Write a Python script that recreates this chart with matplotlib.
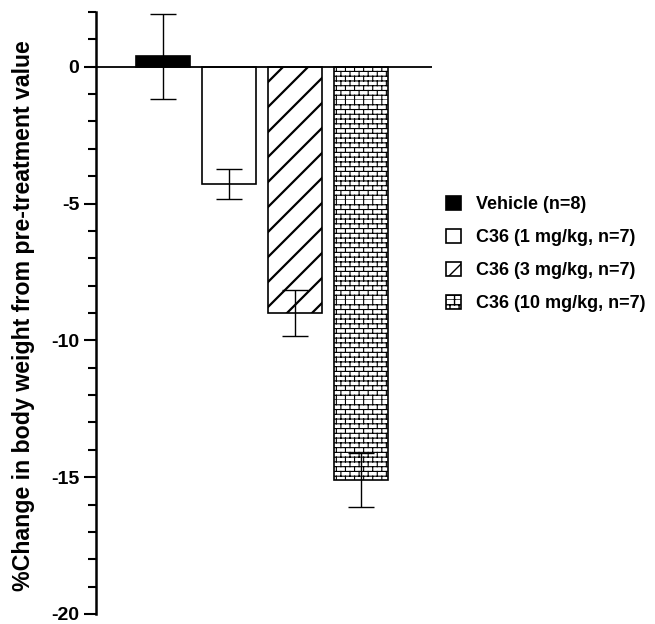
import warnings
import numpy as np
import matplotlib
matplotlib.use("Agg")
import matplotlib.pyplot as plt
import matplotlib.hatch as mhatch
from matplotlib.path import Path
from matplotlib.ticker import MultipleLocator

warnings.filterwarnings("ignore")

# data
labels = ["Vehicle (n=8)", "C36 (1 mg/kg, n=7)", "C36 (3 mg/kg, n=7)", "C36 (10 mg/kg, n=7)"]
means = [0.38, -4.3, -9.0, -15.1]
errors = [1.55, 0.55, 0.85, 1.0]


# custom hatches: 'b' = brick, 'd' = wider diagonal
class BrickHatch(mhatch.HatchPatternBase):
    def __init__(self, hatch, density):
        self.rows = int(hatch.count('b') * density * 3.5)
        self.cols = 11
        self.num_vertices = self.rows * 2 + self.rows * self.cols * 2

    def set_vertices_and_codes(self, vertices, codes):
        h = 1.0 / self.rows
        w = 1.0 / self.cols
        i = 0
        for r in range(self.rows):
            y = r * h
            vertices[i] = (0.0, y)
            vertices[i + 1] = (1.0, y)
            codes[i] = Path.MOVETO
            codes[i + 1] = Path.LINETO
            i += 2
            off = 0.0 if r % 2 == 0 else w / 2
            for c in range(self.cols):
                x = c * w + off
                vertices[i] = (x, y)
                vertices[i + 1] = (x, y + h)
                codes[i] = Path.MOVETO
                codes[i + 1] = Path.LINETO
                i += 2


class WideDiagonal(mhatch.HatchPatternBase):
    def __init__(self, hatch, density):
        self.num_lines = int(hatch.count('d') * 8)
        self.num_vertices = (self.num_lines + 1) * 2

    def set_vertices_and_codes(self, vertices, codes):
        steps = np.linspace(-0.5, 0.5, self.num_lines + 1)
        vertices[0::2, 0] = 0.0 + steps
        vertices[0::2, 1] = 0.0 - steps
        vertices[1::2, 0] = 1.0 + steps
        vertices[1::2, 1] = 1.0 - steps
        codes[0::2] = Path.MOVETO
        codes[1::2] = Path.LINETO


mhatch._hatch_types.append(BrickHatch)
mhatch._hatch_types.append(WideDiagonal)

plt.rcParams['font.family'] = ['Liberation Sans', 'DejaVu Sans']
plt.rcParams['font.weight'] = 'bold'
plt.rcParams['axes.unicode_minus'] = False

fig = plt.figure(figsize=(6.55, 6.24), dpi=100)
ax = fig.add_axes([96 / 655, 10 / 624, (432 - 96) / 655, (614 - 12) / 624])

x = np.arange(len(means))
fills = ['black', 'white', 'white', 'white']
hatches = [None, None, 'd', 'b']
hatch_lw = [1.0, 1.0, 1.6, 0.8]
hatch_col = ['black', 'black', 'black', '#333333']

for i in range(len(means)):
    with plt.rc_context({'hatch.linewidth': hatch_lw[i], 'hatch.color': hatch_col[i]}):
        ax.bar(x[i], means[i], width=0.82, color=fills[i], edgecolor='black',
               linewidth=1.2, hatch=hatches[i], label=labels[i], zorder=2)

ax.errorbar(x, means, yerr=errors, fmt='none', ecolor='black', elinewidth=1.0,
            capsize=9.7, capthick=1.0, zorder=3)

ax.axhline(0, color='black', lw=1.3, zorder=4)

ax.set_xlim(-1.02, 4.07)
ax.set_ylim(-20, 2)
ax.yaxis.set_major_locator(MultipleLocator(5))
ax.yaxis.set_minor_locator(MultipleLocator(1))
ax.tick_params(axis='y', which='major', length=9, width=1.5, labelsize=14, pad=3)
ax.tick_params(axis='y', which='minor', length=6, width=1.5)
ax.set_xticks([])
for s in ['top', 'right', 'bottom']:
    ax.spines[s].set_visible(False)
ax.spines['left'].set_linewidth(1.8)
ax.set_ylabel('%Change in body weight from pre-treatment value', fontsize=16.7,
              fontweight='bold')
ax.yaxis.set_label_coords(-0.183, 0.495)

ax.legend(loc='upper left', bbox_to_anchor=(0.992, 0.722), frameon=False,
          handlelength=0.85, handleheight=0.85, handletextpad=0.85, labelspacing=0.86,
          borderaxespad=0.5, prop={'weight': 'bold', 'size': 13})

plt.savefig('out.png', dpi=100)
plt.close()
